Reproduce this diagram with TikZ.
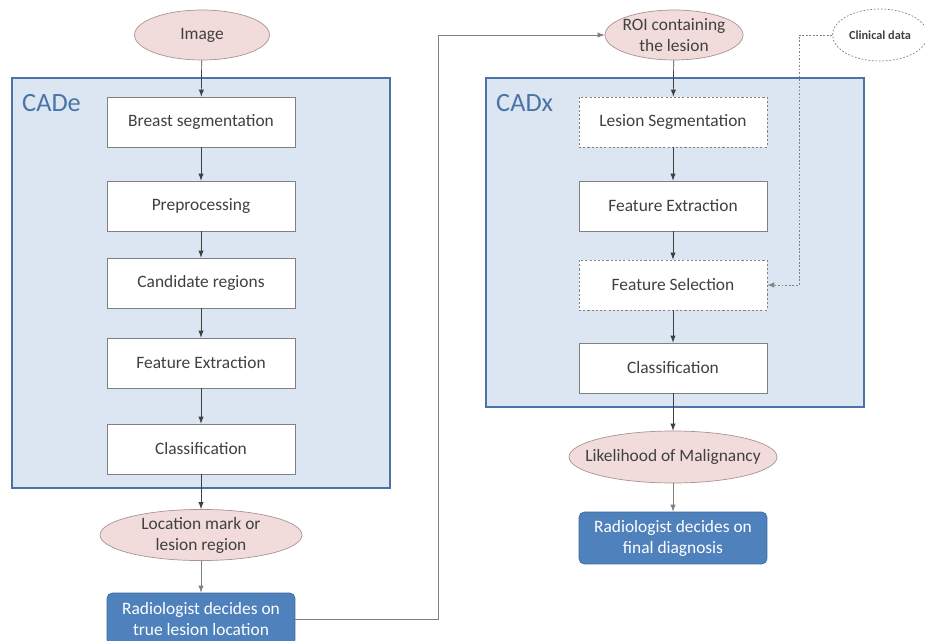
\documentclass[tikz,border=0pt]{standalone}
\usepackage{fontspec}
\setmainfont{Carlito}
\usepackage{tikz}
\tikzset{>=latex}
\usetikzlibrary{shapes.geometric}
\definecolor{roseFill}{HTML}{F2DCDB}
\definecolor{roseLine}{HTML}{A89494}
\definecolor{panelFill}{HTML}{DCE6F2}
\definecolor{panelLine}{HTML}{4A74A6}
\definecolor{radFill}{HTML}{4F81BD}
\definecolor{radLine}{HTML}{3B6AA0}
\definecolor{txtGray}{HTML}{404040}

\begin{document}
\begin{tikzpicture}[x=0.02cm,y=-0.02cm,font=\fontsize{9.9}{12}\selectfont]
      \tikzstyle{panel}=[draw=panelLine,fill=panelFill,line width=1pt];
      \tikzstyle{stepbox}=[draw=gray,fill=white,minimum width=3.76cm,minimum height=1cm,text=txtGray];
      \tikzstyle{optbox}=[stepbox,dashed,dash pattern=on 1.2pt off 1.2pt];
      \tikzstyle{blob}=[ellipse,draw=roseLine,fill=roseFill,inner sep=0pt,align=center,text=txtGray];
      \tikzstyle{decide}=[draw=radLine,fill=radFill,rounded corners=3pt,text=white,align=center,minimum width=3.76cm,minimum height=1.04cm];
      \tikzstyle{flow}=[->,draw=txtGray,thin];
      \useasboundingbox (0,0) rectangle (925,641);

      % CADe side
      \draw[panel] (12,78) rectangle (390,488);
      \node[anchor=north west,text=panelLine,font=\fontsize{15}{17}\selectfont] (cade) at (16,88) {CADe};
      \node[blob,minimum width=2.7cm,minimum height=1cm] (img) at (202,35) {Image};
      \node[stepbox] (seg) at (201,122) {Breast segmentation};
      \node[stepbox] (pre) at (201,206) {Preprocessing};
      \node[stepbox] (cand) at (201,283) {Candidate regions};
      \node[stepbox] (feat) at (201,363) {Feature Extraction};
      \node[stepbox] (cls) at (201,449) {Classification};
      \node[blob,minimum width=4.04cm,minimum height=1.02cm] (loc) at (201,535) {Location mark or\\lesion region};
      \node[decide] (rad1) at (201,619) {Radiologist decides on\\true lesion location};
      \draw[flow] (img) -- (seg);
      \draw[flow] (seg) -- (pre);
      \draw[flow] (pre) -- (cand);
      \draw[flow] (cand) -- (feat);
      \draw[flow] (feat) -- (cls);
      \draw[flow] (cls) -- (loc);
      \draw[flow,draw=gray] (loc) -- (rad1);

      % CADx side
      \draw[panel] (486,78) rectangle (864,407);
      \node[anchor=north west,text=panelLine,font=\fontsize{15}{17}\selectfont] (cadx) at (490,88) {CADx};
      \node[blob,minimum width=2.76cm,minimum height=1cm,inner xsep=-3pt] (roi) at (674,35) {ROI containing\\the lesion};
      \node[ellipse,draw=gray,dashed,dash pattern=on 1pt off 1pt,minimum width=1.9cm,minimum height=1.04cm,inner sep=0pt,font=\fontsize{7}{8}\selectfont\bfseries,text=txtGray] (clin) at (880,35) {Clinical data};
      \node[optbox] (lseg) at (673,122) {Lesion Segmentation};
      \node[stepbox] (xfeat) at (673,206) {Feature Extraction};
      \node[optbox] (fsel) at (673,285) {Feature Selection};
      \node[stepbox] (xcls) at (673,368) {Classification};
      \node[blob,minimum width=4.16cm,minimum height=1.04cm,inner xsep=-9pt] (lik) at (673,457) {Likelihood of Malignancy};
      \node[decide] (rad2) at (673,538) {Radiologist decides on\\final diagnosis};
      \draw[flow] (roi) -- (lseg);
      \draw[flow] (lseg) -- (xfeat);
      \draw[flow] (xfeat) -- (fsel);
      \draw[flow] (fsel) -- (xcls);
      \draw[flow] (xcls) -- (lik);
      \draw[flow,draw=gray] (lik) -- (rad2);

      % links between the two
      \coordinate (bend) at (438,35);
      \coordinate (cbend) at (799,285);
      \draw[->,draw=gray] (rad1.east) -| (bend) -- (roi.west);
      \draw[->,draw=gray,dashed,dash pattern=on 1pt off 1pt] (clin.west) -| (cbend) -- (fsel.east);
    \end{tikzpicture}
\end{document}
